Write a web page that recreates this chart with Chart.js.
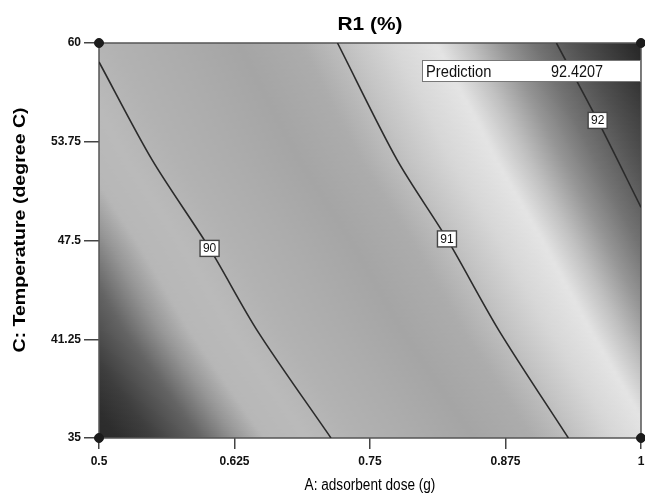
<!DOCTYPE html>
<html>
<head>
<meta charset="utf-8">
<script src="https://cdn.jsdelivr.net/npm/chart.js@4.4.1/dist/chart.umd.min.js"></script>
<style>
  html, body { margin: 0; padding: 0; background: #fff; }
</style>
</head>
<body>
<canvas id="contourChart" width="645" height="494"></canvas>
<script>
// axis ticks
const doseTicks = [0.5, 0.625, 0.75, 0.875, 1];
const tempTicks = [35, 41.25, 47.5, 53.75, 60];

// contour lines, [dose, temperature]
const contourLevels = [90, 91, 92];
const contour90 = [[0.5, 58.8], [0.549, 52.6], [0.602, 47.0], [0.646, 41.8], [0.714, 35]];
const contour91 = [[0.720, 60], [0.775, 52.6], [0.821, 47.6], [0.869, 41.8], [0.933, 35]];
const contour92 = [[0.922, 60], [0.960, 55.1], [1.0, 49.6]];

// where the level tags sit on each line
const labelDose = [0.602, 0.821, 0.960];
const labelTemp = [47.0, 47.6, 55.1];

// design points at the corners
const designDose = [0.5, 0.5, 1, 1];
const designTemp = [35, 60, 35, 60];

// prediction flag
const predictionLabel = 'Prediction';
const predictionValue = '92.4207';

// grey of the response surface for each response level
const shadeLevels = [88.9, 89.1, 89.25, 89.45, 89.6, 89.72, 89.9, 90.1, 90.35, 90.6, 90.85, 91.05, 91.25, 91.45, 91.6, 91.75, 91.9, 92.1, 92.35, 92.5];
const shadeGrays = [40, 45, 62, 100, 150, 183, 186, 178, 172, 165, 172, 195, 215, 228, 192, 150, 115, 80, 42, 35];

const FONT = "'Liberation Sans', Arial, sans-serif";
const contourLines = [contour90, contour91, contour92];

// dose where a contour line crosses temperature t (extends the end segments)
function doseAtTemp(line, t) {
    const pts = line.slice().sort((a, b) => a[1] - b[1]);
    let i = 0;
    while (i < pts.length - 2 && t > pts[i + 1][1]) i++;
    const [x0, y0] = pts[i], [x1, y1] = pts[i + 1];
    return x0 + (x1 - x0) * (t - y0) / (y1 - y0);
}

// response level at pixel px, from the contour crossings on that row
function levelAt(px, xs) {
    let i = 0;
    while (i < xs.length - 2 && px > xs[i + 1]) i++;
    const f = (px - xs[i]) / (xs[i + 1] - xs[i]);
    return contourLevels[i] + f * (contourLevels[i + 1] - contourLevels[i]);
}

function grayAt(r) {
    const n = shadeLevels.length;
    if (r <= shadeLevels[0]) return shadeGrays[0];
    if (r >= shadeLevels[n - 1]) return shadeGrays[n - 1];
    let i = 0;
    while (r > shadeLevels[i + 1]) i++;
    const f = (r - shadeLevels[i]) / (shadeLevels[i + 1] - shadeLevels[i]);
    return Math.round(shadeGrays[i] + f * (shadeGrays[i + 1] - shadeGrays[i]));
}

function scaledText(ctx, text, x, y, sx) {
    ctx.save();
    ctx.translate(x, y);
    ctx.scale(sx, 1);
    ctx.fillText(text, 0, 0);
    ctx.restore();
}

const shadePlugin = {
    id: 'shade',
    beforeDatasetsDraw(chart) {
        const { ctx, chartArea: a, scales: { x, y } } = chart;
        const w = a.right - a.left;
        ctx.save();
        for (let py = a.top; py < a.bottom; py += 2) {
            const t = y.getValueForPixel(py + 1);
            const xs = contourLines.map(l => x.getPixelForValue(doseAtTemp(l, t)));
            const g = ctx.createLinearGradient(a.left, 0, a.right, 0);
            for (let px = a.left; px <= a.right + 3; px += 4) {
                const v = grayAt(levelAt(px, xs));
                g.addColorStop(Math.min(1, (px - a.left) / w), `rgb(${v},${v},${v})`);
            }
            ctx.fillStyle = g;
            ctx.fillRect(a.left, py, w, Math.min(2, a.bottom - py));
        }
        // plot frame
        ctx.strokeStyle = '#555';
        ctx.lineWidth = 1.5;
        ctx.strokeRect(a.left, a.top, w, a.bottom - a.top);
        ctx.restore();
    }
};

const labelPlugin = {
    id: 'labels',
    afterDatasetsDraw(chart) {
        const { ctx, chartArea: a, scales: { x, y } } = chart;
        ctx.save();
        // level tags on the contour lines
        ctx.font = `12px ${FONT}`;
        ctx.textAlign = 'center';
        ctx.textBaseline = 'middle';
        labelDose.forEach((d, i) => {
            const cx = x.getPixelForValue(d), cy = y.getPixelForValue(labelTemp[i]);
            ctx.fillStyle = '#fff';
            ctx.fillRect(cx - 9.5, cy - 8, 19, 16);
            ctx.strokeStyle = '#444';
            ctx.lineWidth = 1.4;
            ctx.strokeRect(cx - 9.5, cy - 8, 19, 16);
            ctx.fillStyle = '#111';
            ctx.fillText(String(contourLevels[i]), cx, cy + 0.5);
        });
        // prediction flag
        const bx = a.right - 219, by = a.top + 17;
        ctx.fillStyle = '#fff';
        ctx.fillRect(bx, by, 219, 22);
        ctx.strokeStyle = '#777';
        ctx.lineWidth = 1;
        ctx.strokeRect(bx + 0.5, by + 0.5, 218, 21);
        ctx.fillStyle = '#111';
        ctx.font = `16px ${FONT}`;
        ctx.textAlign = 'left';
        ctx.textBaseline = 'alphabetic';
        scaledText(ctx, predictionLabel, bx + 4, by + 17, 0.92);
        scaledText(ctx, predictionValue, bx + 129, by + 17, 0.9);
        ctx.restore();
    },
    afterDraw(chart) {
        const { ctx, chartArea: a } = chart;
        const cx = (a.left + a.right) / 2;
        ctx.save();
        ctx.fillStyle = '#000';
        ctx.textAlign = 'center';
        ctx.textBaseline = 'alphabetic';
        ctx.font = `bold 19px ${FONT}`;
        scaledText(ctx, 'R1 (%)', cx, 30, 1.1);
        ctx.font = `16px ${FONT}`;
        scaledText(ctx, 'A: adsorbent dose (g)', cx, 490, 0.85);
        // y title, stretched along its length
        ctx.translate(25, 230);
        ctx.rotate(-Math.PI / 2);
        ctx.scale(1.15, 1);
        ctx.font = `bold 17px ${FONT}`;
        ctx.fillText('C: Temperature (degree C)', 0, 0);
        ctx.restore();
    }
};

const ctx = document.getElementById('contourChart').getContext('2d');
const contourChart = new Chart(ctx, {
    type: 'scatter',
    data: {
        datasets: [
            ...contourLines.map((l, i) => ({
                label: 'R1 = ' + contourLevels[i],
                data: l.map(p => ({ x: p[0], y: p[1] })),
                showLine: true,
                borderColor: '#2b2b2b',
                borderWidth: 1.6,
                tension: 0.3,
                pointRadius: 0,
                fill: false
            })),
            {
                label: 'Design points',
                data: designDose.map((d, i) => ({ x: d, y: designTemp[i] })),
                pointRadius: 4.5,
                backgroundColor: '#1c1c1c',
                borderColor: '#1c1c1c',
                clip: false
            }
        ]
    },
    options: {
        responsive: false,
        animation: false,
        layout: { autoPadding: false, padding: { top: 43, right: 4, left: 0, bottom: 0 } },
        plugins: {
            legend: { display: false },
            tooltip: { enabled: false },
            title: { display: false }
        },
        scales: {
            x: {
                type: 'linear',
                min: 0.5,
                max: 1,
                afterBuildTicks: s => { s.ticks = doseTicks.map(v => ({ value: v })); },
                afterFit: s => { s.height = 56; s.paddingLeft = 0; s.paddingRight = 0; },
                grid: { drawOnChartArea: false, drawTicks: true, tickLength: 11, color: '#444', lineWidth: 1.5 },
                border: { display: false },
                ticks: {
                    color: '#111',
                    font: { family: FONT, size: 12, weight: 'bold' },
                    padding: 5,
                    maxRotation: 0,
                    autoSkip: false,
                    callback: v => String(v)
                }
            },
            y: {
                type: 'linear',
                min: 35,
                max: 60,
                afterBuildTicks: s => { s.ticks = tempTicks.map(v => ({ value: v })); },
                afterFit: s => { s.width = 99; s.paddingTop = 0; s.paddingBottom = 0; },
                grid: { drawOnChartArea: false, drawTicks: true, tickLength: 15, color: '#444', lineWidth: 1.5 },
                border: { display: false },
                ticks: {
                    color: '#111',
                    font: { family: FONT, size: 12, weight: 'bold' },
                    padding: 3,
                    autoSkip: false,
                    callback: v => String(v)
                }
            }
        }
    },
    plugins: [shadePlugin, labelPlugin]
});
</script>
</body>
</html>
